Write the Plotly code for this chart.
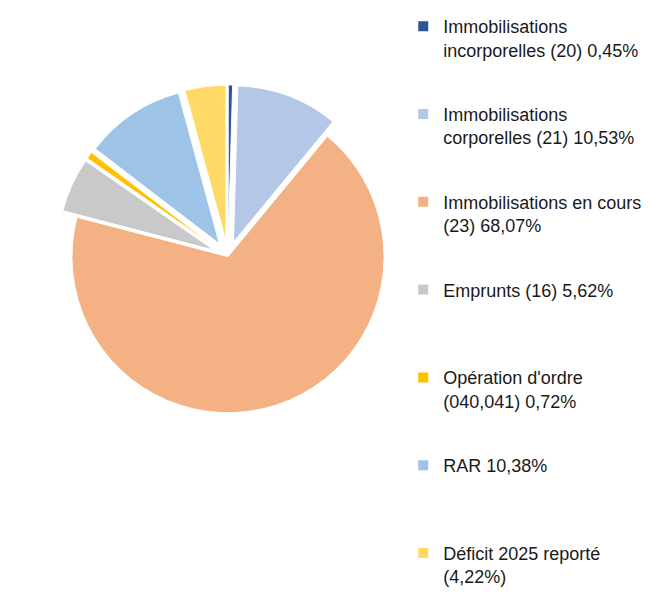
import plotly.graph_objects as go

categories = [
    "Immobilisations<br>incorporelles (20) 0,45%",
    "Immobilisations<br>corporelles (21) 10,53%",
    "Immobilisations en cours<br>(23) 68,07%",
    "Emprunts (16) 5,62%",
    "Opération d'ordre<br>(040,041) 0,72%",
    "RAR 10,38%",
    "Déficit 2025 reporté<br>(4,22%)",
]
values = [0.45, 10.53, 68.07, 5.62, 0.72, 10.38, 4.22]
colors = ["#2F5597", "#B4C7E7", "#F4B183", "#C9C9C9", "#FFC000", "#9DC3E6", "#FFD966"]
pulls = [0.1, 0.1, 0.0, 0.1, 0.1, 0.1, 0.1]

fig = go.Figure()
fig.add_trace(go.Pie(
    labels=categories,
    values=values,
    marker=dict(colors=colors, line=dict(color="white", width=1)),
    pull=pulls,
    sort=False,
    direction="clockwise",
    rotation=0,
    textinfo="none",
    showlegend=False,
    domain=dict(x=[0.074, 0.604], y=[0.29, 0.87]),
))

# legend entries (one per category), padded to a uniform two-line height
for i, (c, col) in enumerate(zip(categories, colors)):
    name = c if "<br>" in c else c + "<br> "
    fig.add_trace(go.Scatter(
        x=[None], y=[None], mode="markers", name=name,
        legendgroup=f"g{i}",
        marker=dict(symbol="square", size=10, color=col),
    ))

fig.update_layout(
    width=649, height=592,
    margin=dict(l=0, r=0, t=0, b=0),
    paper_bgcolor="white",
    plot_bgcolor="white",
    xaxis=dict(visible=False),
    yaxis=dict(visible=False),
    font=dict(family="Liberation Sans, Arial", size=18, color="#1a1a1a"),
    legend=dict(x=0.609, y=1.0, xanchor="left", yanchor="top",
                valign="top", itemwidth=30, tracegroupgap=38,
                traceorder="grouped",
                font=dict(size=18)),
)

fig.write_html("out.html")
